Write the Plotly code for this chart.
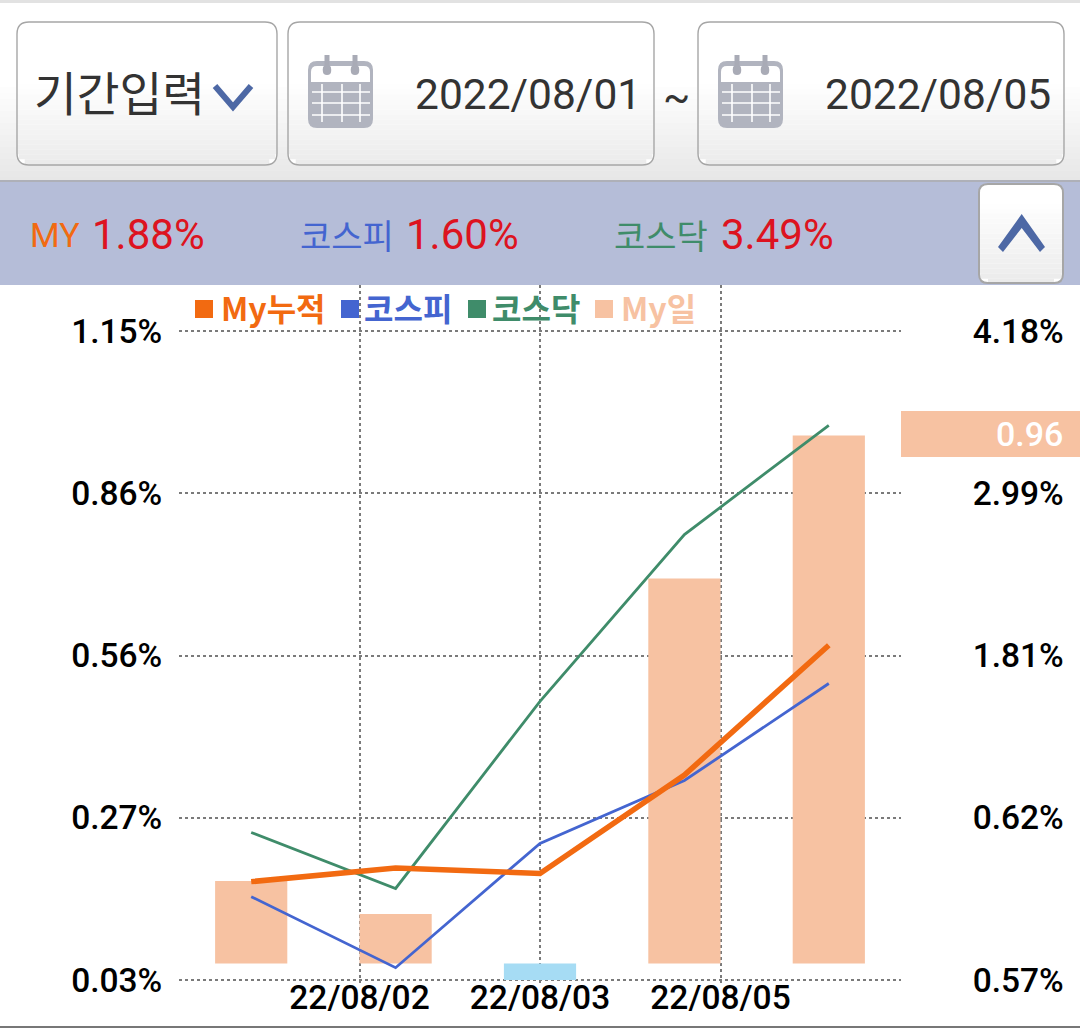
import plotly.graph_objects as go

W, H = 1080, 1028
L, R, T, B = 179, 179, 285, 45

categories = [0, 1, 2, 3, 4]
category_dates = ["22/08/01", "22/08/02", "22/08/03", "22/08/04", "22/08/05"]
my_daily = [0.15, 0.09, -0.03, 0.70, 0.96]
my_cumulative = [0.15, 0.25, 0.21, 0.93, 1.88]
kospi = [0.04, -0.48, 0.43, 0.89, 1.60]
kosdaq = [0.51, 0.10, 1.47, 2.69, 3.49]

left_ticks = [-0.03, 0.265, 0.56, 0.855, 1.15]
left_labels = ["0.03%", "0.27%", "0.56%", "0.86%", "1.15%"]
right_ticks = [-0.57, 0.6175, 1.805, 2.9925, 4.18]
right_labels = ["0.57%", "0.62%", "1.81%", "2.99%", "4.18%"]
x_ticks = [0.75, 2, 3.25]
x_labels = ["22/08/02", "22/08/03", "22/08/05"]

ORANGE, BLUE, GREEN, PEACH, SKY = "#f26a11", "#4465d0", "#3f8c6a", "#f7c2a2", "#a6dcf4"
RED = "#dd1320"
CHEV = "#4d68a5"
LATIN = "Roboto, 'Noto Sans CJK KR', sans-serif"
KR = "'Noto Sans CJK KR', sans-serif"


def px(x):
    return (x - L) / (W - L - R)


def py(y):
    return 1 - (y - T) / (H - T - B)


shapes = []
annotations = []


def rect(x0, y0, x1, y1, color):
    shapes.append(dict(type="rect", xref="paper", yref="paper", x0=px(x0), x1=px(x1),
                       y0=py(y1), y1=py(y0), fillcolor=color, line=dict(width=0)))


def path(points, fill=None, line=None, width=0, close=False):
    d = "M " + " L ".join(f"{px(a):.5f},{py(b):.5f}" for a, b in points)
    if close:
        d += " Z"
    shapes.append(dict(type="path", xref="paper", yref="paper", path=d,
                       fillcolor=fill if fill else "rgba(0,0,0,0)",
                       line=dict(color=line if line else "rgba(0,0,0,0)", width=width)))


def rounded(x0, y0, x1, y1, r, fill=None, line=None, width=0):
    d = (f"M {px(x0+r):.5f},{py(y0):.5f} L {px(x1-r):.5f},{py(y0):.5f} "
         f"Q {px(x1):.5f},{py(y0):.5f} {px(x1):.5f},{py(y0+r):.5f} "
         f"L {px(x1):.5f},{py(y1-r):.5f} Q {px(x1):.5f},{py(y1):.5f} {px(x1-r):.5f},{py(y1):.5f} "
         f"L {px(x0+r):.5f},{py(y1):.5f} Q {px(x0):.5f},{py(y1):.5f} {px(x0):.5f},{py(y1-r):.5f} "
         f"L {px(x0):.5f},{py(y0+r):.5f} Q {px(x0):.5f},{py(y0):.5f} {px(x0+r):.5f},{py(y0):.5f} Z")
    shapes.append(dict(type="path", xref="paper", yref="paper", path=d,
                       fillcolor=fill if fill else "rgba(0,0,0,0)",
                       line=dict(color=line if line else "rgba(0,0,0,0)", width=width)))


def text(x, y, s, size, color, anchor="left", family=LATIN, weight=400):
    annotations.append(dict(xref="paper", yref="paper", x=px(x), y=py(y), text=s, showarrow=False,
                            xanchor=anchor, yanchor="middle", align=anchor, borderpad=0, borderwidth=0,
                            font=dict(size=size, color=color, family=family, weight=weight)))


def grad(t, top=(255, 255, 255), bot=(230, 230, 230)):
    t = max(0, min(1, t))
    return "rgb(" + ",".join(str(round(a + (b - a) * t)) for a, b in zip(top, bot)) + ")"


# header background
rect(0, 0, W, 3, "#e2e2e2")
for y in range(3, 180, 6):
    rect(0, y, W, min(y + 6, 180), grad((y - 80) / 100))
rect(0, 180, W, 182, "#aeb0b8")
rect(0, 182, W, 285, "#b5bdd8")


def button(x0, y0, x1, y1, r=12, start=0.4, bw=1.4):
    h = y1 - y0
    rounded(x0, y0, x1, y1, r, fill="#ffffff")
    top_grad = y0 + h * start
    y = top_grad
    while y < y1:
        ye = min(y + 5, y1)
        inset = 0
        if ye > y1 - r:
            d = ye - (y1 - r)
            inset = r - (r * r - d * d) ** 0.5
        rect(x0 + inset, y, x1 - inset, ye, grad((y - top_grad) / (y1 - top_grad), bot=(234, 234, 234)))
        y = ye
    rounded(x0, y0, x1, y1, r, line="#a6a6a6", width=bw)


def calendar(x):
    body = "#b1b4bf"
    rounded(x, 61, x + 65, 128, 9, fill=body)
    rounded(x + 3, 66, x + 62, 90, 6, fill="#ffffff")
    rect(x + 1, 82, x + 64, 92, body)
    for yy in (92, 103, 115):
        rect(x + 4, yy - 0.8, x + 62, yy + 0.8, "#ffffff")
    for dx in (14, 34, 52):
        rect(x + dx - 0.8, 84, x + dx + 0.8, 122, "#ffffff")
    for dx in (19, 47):
        rect(x + dx - 2.5, 55, x + dx + 2.5, 72, "#a9abb6")
        rounded(x + dx - 4.2, 65, x + dx + 4.2, 75, 4.2, fill="#a9abb6")


button(17, 22, 277, 165)
button(288, 22, 654, 165)
button(698, 22, 1064, 165)
calendar(308)
calendar(718)
path([(215, 86), (233, 107), (251, 86)], line=CHEV, width=6)
text(34, 91, "기간입력", 46.5, "#333333", family=KR)
text(415, 95, "2022/08/01", 42.5, "#333333")
text(676, 97, "~", 40, "#333333", anchor="center")
text(825, 95, "2022/08/05", 42.5, "#333333")

# summary band
button(979, 184, 1063, 283, r=9, start=0.15, bw=2)
path([(1021.7, 214), (1045, 247), (1040, 252), (1021.7, 228), (1003, 252), (998, 247)], fill=CHEV, close=True)
text(30, 235, "MY", 34, ORANGE)
text(92, 235, "1.88%", 42, RED)
text(300, 235, "코스피", 34, BLUE, family=KR)
text(406, 235, "1.60%", 42, RED)
text(614, 235, "코스닥", 34, GREEN, family=KR)
text(721, 235, "3.49%", 42, RED)

# legend
for x, color, label, tx in [(195, ORANGE, "My누적", 221), (341, BLUE, "코스피", 364),
                            (468, GREEN, "코스닥", 492), (595, PEACH, "My일", 621)]:
    rect(x, 300, x + 18, 318, color)
    text(tx, 307, label, 32, color, family=KR, weight=700)

# value flag
rect(901, 411, 1080, 457, PEACH)
text(1063, 434, "0.96", 34, "#ffffff", anchor="right", weight=500)

# bottom rule
rect(0, 1026, W, 1028, "#777777")

bar_colors = [PEACH if v >= 0 else SKY for v in my_daily]
fig = go.Figure()
fig.add_trace(go.Bar(x=categories, y=my_daily, name="My일", marker=dict(color=bar_colors, line=dict(width=0)),
                     yaxis="y", hoverinfo="skip"))
for values, color, width, name in [(kosdaq, GREEN, 2.8, "코스닥"), (kospi, BLUE, 2.8, "코스피"),
                                   (my_cumulative, ORANGE, 5.5, "My누적")]:
    fig.add_trace(go.Scatter(x=categories, y=values, name=name, mode="lines", yaxis="y2",
                             line=dict(color=color, width=width), cliponaxis=False, hoverinfo="skip"))

# both value axes reach slightly past the tick range: 46 px above, 3 px below
plot_px = 649
lrange = [-0.03 - 3 * 1.18 / plot_px, 1.15 + 46 * 1.18 / plot_px]
rrange = [-0.57 - 3 * 4.75 / plot_px, 4.18 + 46 * 4.75 / plot_px]
tickfont = dict(family=LATIN, size=33.5, color="#000000", weight=500)
fig.update_layout(
    width=W, height=H, margin=dict(l=L, r=R, t=T, b=B), autosize=False,
    paper_bgcolor="#ffffff", plot_bgcolor="#ffffff", showlegend=False, bargap=0.5,
    shapes=shapes, annotations=annotations,
    xaxis=dict(range=[-0.5, 4.5], tickmode="array", tickvals=x_ticks, ticktext=x_labels, tickfont=tickfont,
               showgrid=True, gridcolor="#7a7a7a", griddash="dot", gridwidth=2, zeroline=False, ticks="",
               ticklabelstandoff=-9, showline=False, fixedrange=True, automargin=False),
    yaxis=dict(range=lrange, tickmode="array", tickvals=left_ticks, ticktext=left_labels, tickfont=tickfont,
               showgrid=True, gridcolor="#7a7a7a", griddash="dot", gridwidth=2, zeroline=False, ticks="outside",
               ticklen=9, tickcolor="rgba(0,0,0,0)", showline=False, fixedrange=True, automargin=False),
    yaxis2=dict(range=rrange, tickmode="array", tickvals=right_ticks, ticktext=right_labels, tickfont=tickfont,
                overlaying="y", side="right", showgrid=False, zeroline=False, ticks="outside", ticklen=10,
                tickcolor="rgba(0,0,0,0)", ticklabelstandoff=54, showline=False, fixedrange=True, automargin=False),
)
fig.write_html("out.html", config=dict(displayModeBar=False),
               post_script="document.body.style.margin='0';document.body.style.overflow='hidden';")
